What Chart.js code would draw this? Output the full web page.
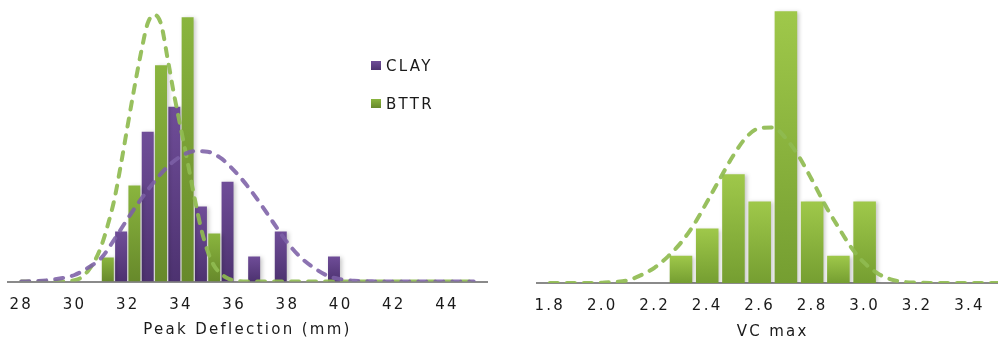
<!DOCTYPE html>
<html><head><meta charset="utf-8">
<script src="https://cdn.jsdelivr.net/npm/chart.js@4/dist/chart.umd.min.js"></script>
<style>
html,body{margin:0;padding:0;background:#fff;overflow:hidden;width:998px;height:341px;position:relative;}
#c1{position:absolute;left:0;top:0;}
#c2{position:absolute;left:500px;top:0;}
</style></head><body>
<canvas id="c1" width="500" height="341"></canvas>
<canvas id="c2" width="510" height="341"></canvas>
<script>
// ---------- data (relative frequency, %) ----------
const pdTicks = [28, 30, 32, 34, 36, 38, 40, 42, 44];
const pdTickLabels = ['28', '30', '32', '34', '36', '38', '40', '42', '44'];
const bttrBins = [31.5, 32.5, 33.5, 34.5, 35.5];
const bttrPct  = [3.70, 14.81, 33.33, 40.74, 7.41];
const clayBins = [31.5, 32.5, 33.5, 34.5, 35.5, 36.5, 37.5, 38.5, 39.5];
const clayPct  = [7.69, 23.08, 26.92, 11.54, 15.38, 3.85, 7.69, 0, 3.85];

const bttrFitX = [28, 28.5, 29, 29.5, 30, 30.25, 30.5, 30.75, 31, 31.25, 31.5, 31.75, 32, 32.25, 32.5, 32.75, 33, 33.25, 33.5, 33.75, 34, 34.25, 34.5, 34.75, 35, 35.25, 35.5, 35.75, 36, 36.5, 37, 38, 39, 40, 41, 42, 43, 44, 45];
const bttrFitY = [0, 0, 0, 0, 0.2, 0.6, 1.6, 3.1, 5.4, 8.7, 12.7, 18.2, 24.1, 29.9, 35.3, 39.8, 41.1, 39.7, 34.3, 28.6, 23.5, 18.4, 13.1, 8.3, 4.7, 2.4, 1.2, 0.5, 0.15, 0, 0, 0, 0, 0, 0, 0, 0, 0, 0];
const clayFitX = [28, 28.5, 29, 29.5, 30, 30.5, 31, 31.5, 32, 32.5, 33, 33.5, 34, 34.5, 35, 35.5, 36, 36.5, 37, 37.5, 38, 38.5, 39, 39.5, 40, 40.5, 41, 41.5, 42, 43, 44, 45];
const clayFitY = [0, 0.05, 0.2, 0.5, 1.0, 2.1, 3.6, 6.5, 9.7, 12.7, 15.4, 17.7, 19.3, 20.1, 20.0, 19.0, 17.1, 14.7, 11.9, 8.9, 6.0, 3.7, 2.1, 0.9, 0.35, 0.1, 0.05, 0, 0, 0, 0, 0];

const vcTicks = [1.8, 2.0, 2.2, 2.4, 2.6, 2.8, 3.0, 3.2, 3.4];
const vcTickLabels = ['1.8', '2.0', '2.2', '2.4', '2.6', '2.8', '3.0', '3.2', '3.4'];
const vcBins = [2.3, 2.4, 2.5, 2.6, 2.7, 2.8, 2.9, 3.0];
const vcPct  = [3.70, 7.41, 14.81, 11.11, 37.04, 11.11, 3.70, 11.11];
const vcFitX = [1.8, 1.85, 1.9, 1.95, 2.0, 2.05, 2.1, 2.15, 2.2, 2.25, 2.3, 2.35, 2.4, 2.45, 2.5, 2.55, 2.6, 2.65, 2.7, 2.75, 2.8, 2.85, 2.9, 2.95, 3.0, 3.05, 3.1, 3.15, 3.2, 3.25, 3.3, 3.4, 3.5, 3.55];
const vcFitY = [0, 0, 0, 0, 0.05, 0.15, 0.4, 1.1, 2.1, 3.6, 5.5, 8.0, 11.1, 14.3, 17.4, 19.9, 21.1, 21.2, 19.7, 17.2, 14.0, 10.6, 7.6, 4.8, 2.7, 1.3, 0.5, 0.15, 0.05, 0, 0, 0, 0, 0];

const legendLabels = ['CLAY', 'BTTR'];

// ---------- helpers ----------
Chart.defaults.font.family = '"DejaVu Sans", Verdana, sans-serif';
const LS = '2.3px';
const pts = (xs, ys) => xs.map((x, i) => ({x: x, y: ys[i]}));

const PURPLE = ['#6f4d98', '#4d3270'];
const GREEN_L = ['#8ab53e', '#67892b'];
const GREEN_R = ['#9fc84a', '#759e31'];

function barGrad(cols) {
  return (c) => {
    const chart = c.chart;
    if (!chart.chartArea || c.type !== 'data') return cols[1];
    const ys = chart.scales.y;
    const v = c.raw && c.raw.y !== undefined ? c.raw.y : 0;
    const t = ys.getPixelForValue(v), b = ys.getPixelForValue(0);
    if (b - t < 1) return cols[1];
    const g = chart.ctx.createLinearGradient(0, t, 0, b);
    g.addColorStop(0, cols[0]);
    g.addColorStop(1, cols[1]);
    return g;
  };
}

const spacingPlugin = {
  id: 'letterSpacing',
  beforeLayout(chart) { chart.ctx.letterSpacing = LS; },
  beforeDraw(chart) { chart.ctx.letterSpacing = LS; }
};
const shadowPlugin = {
  id: 'barShadow',
  beforeDatasetDraw(chart, args) {
    if (args.meta.type !== 'bar') return;
    const ctx = chart.ctx;
    ctx.save();
    ctx.shadowColor = 'rgba(0,0,0,0.22)';
    ctx.shadowBlur = 4;
    ctx.shadowOffsetX = 2;
    ctx.shadowOffsetY = 1;
  },
  afterDatasetDraw(chart, args) {
    if (args.meta.type !== 'bar') return;
    chart.ctx.restore();
  }
};
const legendPlugin = {
  id: 'inlineLegend',
  afterDraw(chart) {
    const ctx = chart.ctx;
    ctx.save();
    ctx.letterSpacing = LS;
    ctx.font = '15px "DejaVu Sans"';
    ctx.textBaseline = 'alphabetic';
    ctx.textAlign = 'left';
    legendLabels.forEach((lab, k) => {
      const cols = lab === 'CLAY' ? PURPLE : GREEN_L;
      const y0 = 61 + k * 38;
      const g = ctx.createLinearGradient(0, y0, 0, y0 + 9);
      g.addColorStop(0, cols[0]); g.addColorStop(1, cols[1]);
      ctx.fillStyle = g;
      ctx.fillRect(371, y0, 10, 9);
      ctx.fillStyle = '#1a1a1a';
      ctx.fillText(lab, 386, y0 + 10.2);
    });
    ctx.restore();
  }
};

function xAxis(min, max, ticks, labels, title, tickPad, titlePad) {
  return {
    type: 'linear', min: min, max: max, offset: false,
    afterBuildTicks: (s) => { s.ticks = ticks.map(v => ({value: v})); },
    afterFit: (s) => { s.paddingLeft = 0; s.paddingRight = 0; },
    grid: {display: false, drawTicks: false, offset: false},
    border: {display: true, color: '#8a8a8a', width: 2},
    ticks: {padding: tickPad, color: '#1a1a1a', font: {size: 15, lineHeight: 1.2}, maxRotation: 0, autoSkip: false,
            callback: (v, i) => labels[i]},
    title: {display: true, text: title, color: '#1a1a1a', font: {size: 15, lineHeight: 1.2}, padding: {top: titlePad, bottom: 0}}
  };
}

const lineDs = (label, data, color, order) => ({
  type: 'line', label: label, data: data, borderColor: color, borderWidth: 4,
  borderDash: [8, 9], borderCapStyle: 'round', pointRadius: 0, fill: false,
  cubicInterpolationMode: 'monotone', order: order
});

// ---------- left chart ----------
new Chart(document.getElementById('c1'), {
  type: 'bar',
  data: {
    datasets: [
      {label: 'BTTR', data: pts(bttrBins, bttrPct), backgroundColor: barGrad(GREEN_L), borderWidth: 0,
       barPercentage: 0.9, categoryPercentage: 1, order: 2},
      {label: 'CLAY', data: pts(clayBins, clayPct), backgroundColor: barGrad(PURPLE), borderWidth: 0,
       barPercentage: 0.9, categoryPercentage: 1, order: 2},
      lineDs('BTTR normal', pts(bttrFitX, bttrFitY), 'rgba(143,187,80,0.92)', 1),
      lineDs('CLAY normal', pts(clayFitX, clayFitY), 'rgba(124,96,166,0.88)', 0)
    ]
  },
  options: {
    responsive: false, animation: false, devicePixelRatio: 1,
    layout: {padding: {left: 8, right: 13, top: 2.5, bottom: 2}},
    plugins: {legend: {display: false}, tooltip: {enabled: false}},
    scales: {
      x: xAxis(27.5, 45.5, pdTicks, pdTickLabels, 'Peak Deflection (mm)', 14.5, -7.5),
      y: {display: false, min: 0, max: 43}
    }
  },
  plugins: [spacingPlugin, shadowPlugin, legendPlugin]
});

// ---------- right chart ----------
new Chart(document.getElementById('c2'), {
  type: 'bar',
  data: {
    datasets: [
      {label: 'VC max', data: pts(vcBins, vcPct), backgroundColor: barGrad(GREEN_R), borderWidth: 0,
       barPercentage: 0.86, categoryPercentage: 1, order: 2},
      lineDs('VC max normal', pts(vcFitX, vcFitY), 'rgba(143,187,80,0.92)', 0)
    ]
  },
  options: {
    responsive: false, animation: false, devicePixelRatio: 1,
    layout: {padding: {left: 36.7, right: 1.1, top: 4.1, bottom: 0}},
    plugins: {legend: {display: false}, tooltip: {enabled: false}},
    scales: {
      x: xAxis(1.75, 3.55, vcTicks, vcTickLabels, 'VC max', 14.5, -7),
      y: {display: false, min: 0, max: 38}
    }
  },
  plugins: [spacingPlugin, shadowPlugin]
});
</script>
</body></html>
